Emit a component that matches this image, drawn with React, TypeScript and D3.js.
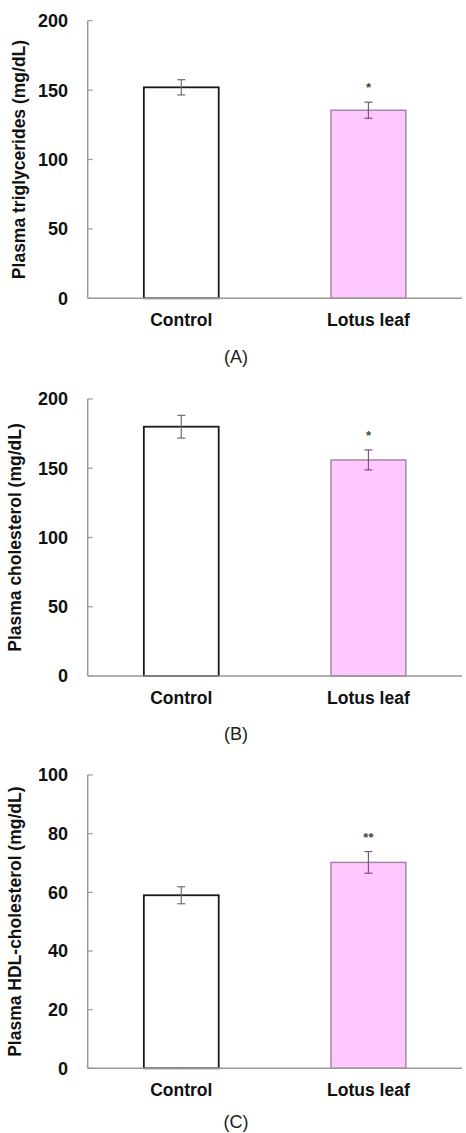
import React from 'react';
import * as d3 from 'd3';

const WIDTH = 466;
const HEIGHT = 1133;

const groups = ['Control', 'Lotus leaf'];

const triglycerideMeans = [152, 135.5];
const triglycerideErrors = [5.5, 5.8];
const triglycerideMarks = ['', '*'];

const cholesterolMeans = [180, 156];
const cholesterolErrors = [8.2, 7.2];
const cholesterolMarks = ['', '*'];

const hdlMeans = [59, 70.2];
const hdlErrors = [2.9, 3.7];
const hdlMarks = ['', '**'];

const ticks200 = [0, 50, 100, 150, 200];
const ticks100 = [0, 20, 40, 60, 80, 100];

const FONT = '"Liberation Sans", Arial, sans-serif';
const AXIS_X0 = 87.7;
const AXIS_X1 = 462;

const barFill = ['#ffffff', '#ffc9ff'];
const barStroke = ['#1a1a1a', '#9c849c'];
const errStroke = ['#6e6e6e', '#7a527a'];

type PanelProps = {
  top: number;
  bottom: number;
  maxY: number;
  ticks: number[];
  means: number[];
  errors: number[];
  marks: string[];
  yLabel: string;
  yLabelX: number;
  caption: string;
  captionY: number;
};

const Panel = ({ top, bottom, maxY, ticks, means, errors, marks, yLabel, yLabelX, caption, captionY }: PanelProps) => {
  const yScale = d3.scaleLinear().domain([0, maxY]).range([bottom, top]);
  const xScale = d3.scaleBand().domain(groups).range([AXIS_X0, AXIS_X1]).padding(0);
  const barWidth = xScale.bandwidth() * 0.4;

  const bars = groups.map((g, i) => {
    const cx = (xScale(g) ?? 0) + xScale.bandwidth() / 2;
    const yTop = yScale(means[i]);
    const yHi = yScale(means[i] + errors[i]);
    const yLo = yScale(means[i] - errors[i]);
    return (
      <g key={g}>
        <rect
          x={cx - barWidth / 2}
          y={yTop}
          width={barWidth}
          height={yScale(0) - yTop}
          fill={barFill[i]}
          stroke={barStroke[i]}
          strokeWidth={i === 0 ? 1.8 : 1.4}
        />
        <line x1={cx} x2={cx} y1={yHi} y2={yLo} stroke={errStroke[i]} strokeWidth={1.2} />
        <line x1={cx - 4} x2={cx + 4} y1={yHi} y2={yHi} stroke={errStroke[i]} strokeWidth={1.2} />
        <line x1={cx - 4} x2={cx + 4} y1={yLo} y2={yLo} stroke={errStroke[i]} strokeWidth={1.2} />
        {marks[i] && (
          <text
            x={cx}
            y={yHi - 10}
            textAnchor="middle"
            fontSize={13}
            fontWeight="bold"
            fill="#444"
            fontFamily={FONT}
          >
            {marks[i]}
          </text>
        )}
        <text
          x={cx}
          y={bottom + 28}
          textAnchor="middle"
          fontSize={17.5}
          fontWeight="bold"
          fill="#111"
          fontFamily={FONT}
        >
          {g}
        </text>
      </g>
    );
  });

  const axisTicks = ticks.map((t) => (
    <g key={t}>
      <line x1={AXIS_X0} x2={AXIS_X0 + 5} y1={yScale(t)} y2={yScale(t)} stroke="#999" strokeWidth={1.2} />
      <text
        x={68}
        y={yScale(t)}
        dy="0.36em"
        textAnchor="end"
        fontSize={18}
        fontWeight="bold"
        fill="#111"
        fontFamily={FONT}
      >
        {t}
      </text>
    </g>
  ));

  return (
    <g>
      {bars}
      <line x1={AXIS_X0} x2={AXIS_X0} y1={top} y2={bottom} stroke="#999" strokeWidth={1.5} />
      <line x1={AXIS_X0} x2={AXIS_X1} y1={bottom} y2={bottom} stroke="#999" strokeWidth={1.5} />
      {axisTicks}
      <text
        transform={`translate(${yLabelX},${(top + bottom) / 2}) rotate(-90)`}
        textAnchor="middle"
        fontSize={17.5}
        fontWeight="bold"
        fill="#111"
        fontFamily={FONT}
      >
        {yLabel}
      </text>
      <text x={236} y={captionY} textAnchor="middle" fontSize={18} fill="#222" fontFamily={FONT}>
        {caption}
      </text>
    </g>
  );
};

export default function App() {
  return (
    <svg
      width={WIDTH}
      height={HEIGHT}
      style={{ position: 'absolute', left: 0, top: 0, background: '#fff' }}
    >
      <Panel
        top={20.7}
        bottom={298.3}
        maxY={200}
        ticks={ticks200}
        means={triglycerideMeans}
        errors={triglycerideErrors}
        marks={triglycerideMarks}
        yLabel="Plasma triglycerides (mg/dL)"
        yLabelX={25}
        caption="(A)"
        captionY={363}
      />
      <Panel
        top={399}
        bottom={676}
        maxY={200}
        ticks={ticks200}
        means={cholesterolMeans}
        errors={cholesterolErrors}
        marks={cholesterolMarks}
        yLabel="Plasma cholesterol (mg/dL)"
        yLabelX={21}
        caption="(B)"
        captionY={740}
      />
      <Panel
        top={775}
        bottom={1068.3}
        maxY={100}
        ticks={ticks100}
        means={hdlMeans}
        errors={hdlErrors}
        marks={hdlMarks}
        yLabel="Plasma HDL-cholesterol (mg/dL)"
        yLabelX={21}
        caption="(C)"
        captionY={1128}
      />
    </svg>
  );
}
